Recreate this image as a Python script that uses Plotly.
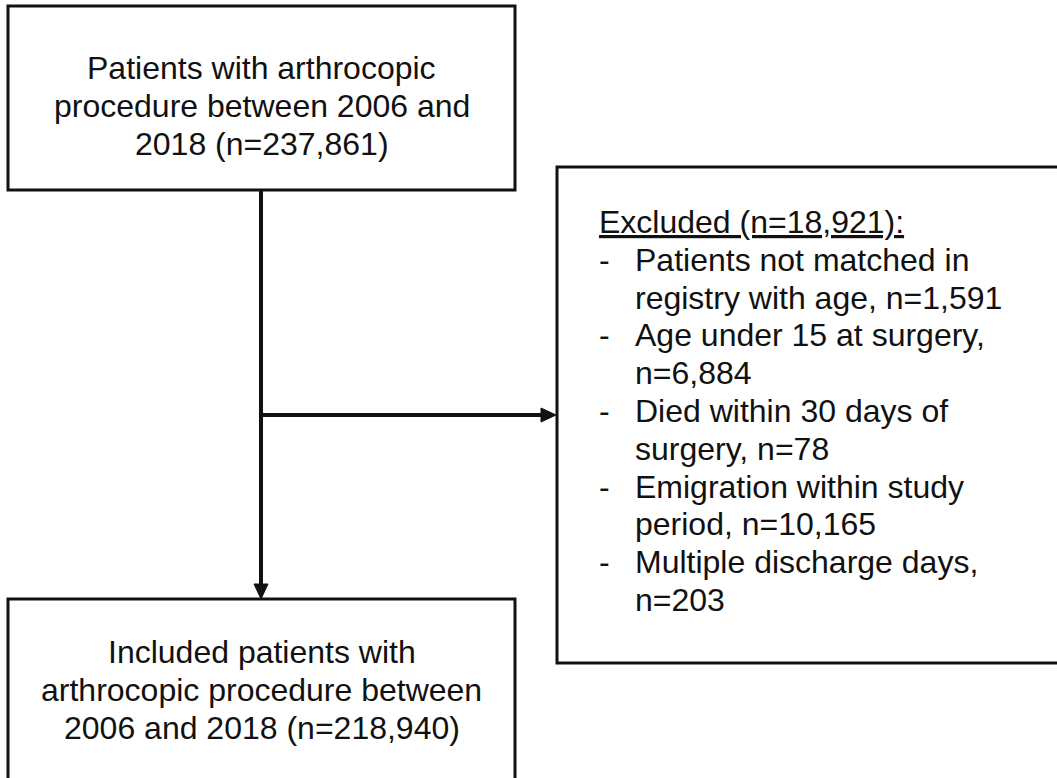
import plotly.graph_objects as go

# ---- content ----
top_lines = ["Patients with arthrocopic", "procedure between 2006 and", "2018 (n=237,861)"]
bottom_lines = ["Included patients with", "arthrocopic procedure between", "2006 and 2018 (n=218,940)"]
excluded_header = "Excluded (n=18,921):"
excluded_items = [
    ["Patients not matched in", "registry with age, n=1,591"],
    ["Age under 15 at surgery,", "n=6,884"],
    ["Died within 30 days of", "surgery, n=78"],
    ["Emigration within study", "period, n=10,165"],
    ["Multiple discharge days,", "n=203"],
]

W, H = 1057, 778
FONT = "Arial, 'Liberation Sans', Helvetica, sans-serif"
FS = 32
LS = 37.8
COL = "#111111"
OFF = 10  # baseline -> middle offset

fig = go.Figure()
shapes = []
ann = []

def box(x0, y0, x1, y1):
    shapes.append(dict(type="rect", x0=x0, y0=y0, x1=x1, y1=y1,
                       line=dict(color=COL, width=3), fillcolor="rgba(0,0,0,0)", layer="above"))

box(8, 6, 515, 190)
box(8, 599, 515, 820)
box(557, 167, 1080, 663)

# connectors
shapes.append(dict(type="line", x0=261, y0=190, x1=261, y1=586, line=dict(color=COL, width=4)))
shapes.append(dict(type="path", path="M 254 584 L 268 584 L 261 599 Z", fillcolor=COL, line=dict(color=COL, width=1)))
shapes.append(dict(type="line", x0=261, y0=415, x1=543, y1=415, line=dict(color=COL, width=4)))
shapes.append(dict(type="path", path="M 541 408 L 541 422 L 556 415 Z", fillcolor=COL, line=dict(color=COL, width=1)))

def text(x, baseline, s, anchor="center"):
    ann.append(dict(x=x, y=baseline - OFF, xref="x", yref="y", text=s, showarrow=False,
                    xanchor=anchor, yanchor="middle",
                    font=dict(family=FONT, size=FS, color=COL)))

for i, s in enumerate(top_lines):
    text(261.5, 78 + i * LS, s)
for i, s in enumerate(bottom_lines):
    text(261.5, 662 + i * LS, s)

text(597, 232, '<span style="text-decoration:underline">' + excluded_header + '</span>', "left")
row = 1
for item in excluded_items:
    text(597, 232 + row * LS, "-", "left")
    for ln in item:
        text(633, 232 + row * LS, ln, "left")
        row += 1

fig.update_layout(
    width=W, height=H, margin=dict(l=0, r=0, t=0, b=0),
    paper_bgcolor="white", plot_bgcolor="white",
    xaxis=dict(range=[0, W], visible=False, fixedrange=True),
    yaxis=dict(range=[H, 0], visible=False, fixedrange=True),
    shapes=shapes, annotations=ann, showlegend=False,
)
fig.write_html("out.html", config={"displayModeBar": False},
               post_script="document.body.style.margin='0';document.body.style.overflow='hidden';")
